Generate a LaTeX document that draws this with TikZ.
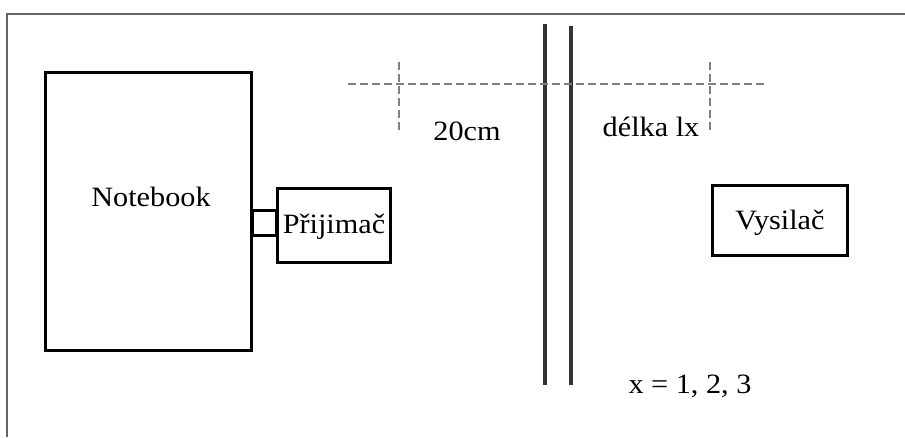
\documentclass[tikz,border=0pt]{standalone}
\usepackage{fontspec}
\setmainfont{Liberation Serif}[FakeStretch=1.08]
\begin{document}
\begin{tikzpicture}[x=1pt,y=-1pt,
  box/.style={draw=black,line width=3pt,minimum width=#1,inner sep=0pt},
  lbl/.style={font=\fontsize{28}{30}\selectfont,inner sep=0pt,anchor=base},
  frameline/.style={draw=black!60,line width=2.2pt},
  wall/.style={draw=black!80,line width=3.2pt},
  dim/.style={draw=black!50,line width=2pt,dash pattern=on 8pt off 4pt}]
\useasboundingbox (0,0) rectangle (905,437);
% frame
\coordinate (ftl) at (7,14);
\coordinate (ftr) at (905,14);
\coordinate (fbl) at (7,437);
\draw[frameline] (ftr) -- (ftl) -- (fbl);
% notebook
\node[box=206pt,minimum height=278pt] (nb) at (148,211) {};
\node[lbl] (nbt) at (151,206) {Notebook};
% receiver
\node[box=113pt,minimum height=74pt] (rx) at (333.5,225) {};
\node[lbl] (rxt) at (334,233) {Přijimač};
% connector
\node[draw=black,line width=3pt,minimum width=24pt,minimum height=25pt,inner sep=0pt] (con) at (264.5,222.5) {};
% transmitter
\node[box=135pt,minimum height=70pt] (tx) at (780,220) {};
\node[lbl] (txt) at (780,229) {Vysilač};
% wall
\coordinate (w1t) at (545,24);
\coordinate (w1b) at (545,385);
\coordinate (w2t) at (571,26);
\coordinate (w2b) at (571,385);
\draw[wall] (w1t) -- (w1b);
\draw[wall] (w2t) -- (w2b);
% dimension lines
\coordinate (dl) at (348,84);
\coordinate (dr) at (765,84);
\coordinate (d1t) at (399,62);
\coordinate (d1b) at (399,132);
\coordinate (d2t) at (710,62);
\coordinate (d2b) at (710,133);
\draw[dim] (dl) -- (dr);
\draw[dim] (d1t) -- (d1b);
\draw[dim] (d2t) -- (d2b);
\node[lbl] (l20) at (467,140) {20cm};
\node[lbl] (llx) at (651,136) {délka lx};
\node[lbl] (lx) at (690,393) {x = 1, 2, 3};
\end{tikzpicture}
\end{document}
